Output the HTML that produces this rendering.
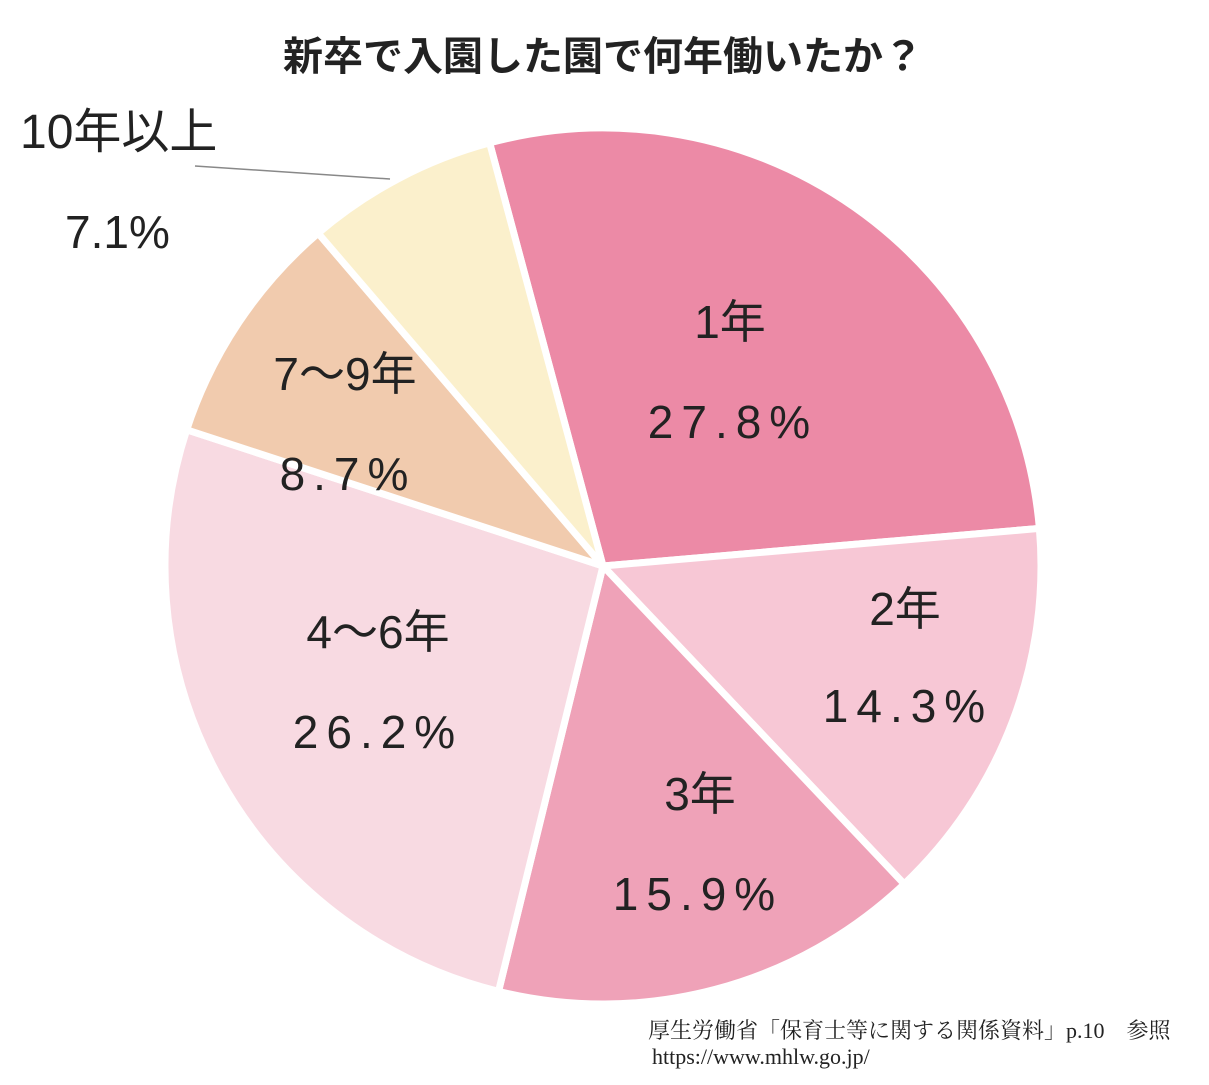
<!DOCTYPE html>
<html><head><meta charset="utf-8"><style>
body{margin:0;background:#fff;}
svg text{font-family:"Liberation Sans","Noto Sans CJK JP",sans-serif;fill:#222;}
</style></head><body>
<svg width="1209" height="1080" viewBox="0 0 1209 1080" xmlns="http://www.w3.org/2000/svg">
<rect width="1209" height="1080" fill="#fff"/>
<g stroke="#fff" stroke-width="7" stroke-linejoin="miter">
<path id="p1" fill="#ec8aa6"/>
<path id="p2" fill="#f7c7d5"/>
<path id="p3" fill="#efa2b8"/>
<path id="p4" fill="#f8dae2"/>
<path id="p5" fill="#f1cbae"/>
<path id="p6" fill="#fbf0cc"/>
</g>
<script>
(function(){
var cx=603,cy=566,r=438;
var v=[27.8,14.3,15.9,26.2,8.7,7.1];var a=-15;
for(var i=0;i<6;i++){
 var a2=a+v[i]*3.6;
 function pt(d){var t=d*Math.PI/180;return [cx+r*Math.sin(t),cy-r*Math.cos(t)];}
 var p=pt(a),q=pt(a2);
 document.getElementById('p'+(i+1)).setAttribute('d','M'+cx+','+cy+' L'+p[0]+','+p[1]+' A'+r+','+r+' 0 '+((a2-a)>180?1:0)+' 1 '+q[0]+','+q[1]+' Z');
 a=a2;}
})();
</script>
<text x="603" y="70" font-size="40" font-weight="bold" text-anchor="middle">新卒で入園した園で何年働いたか？</text>
<line x1="195" y1="166" x2="390" y2="179" stroke="#888" stroke-width="1.5"/>
<text x="20" y="148" font-size="48">10年以上</text>
<text x="65" y="248" font-size="46">7.1%</text>
<g font-size="46" text-anchor="middle">
<text x="730" y="338">1年</text>
<text x="733" y="438" letter-spacing="8">27.8%</text>
<text x="905" y="625">2年</text>
<text x="908" y="722" letter-spacing="8">14.3%</text>
<text x="700" y="810">3年</text>
<text x="698" y="910" letter-spacing="8">15.9%</text>
<text x="378" y="648">4〜6年</text>
<text x="378" y="748" letter-spacing="8">26.2%</text>
<text x="345" y="390">7〜9年</text>
<text x="348" y="490" letter-spacing="8">8.7%</text>
</g>
<text x="648" y="1038" font-size="22" style="font-family:'Liberation Serif','Noto Serif CJK SC',serif">厚生労働省「保育士等に関する関係資料」p.10　参照</text>
<text x="652" y="1064" font-size="22" style="font-family:'Liberation Serif','Noto Serif CJK SC',serif">https://www.mhlw.go.jp/</text>
</svg>
</body></html>
